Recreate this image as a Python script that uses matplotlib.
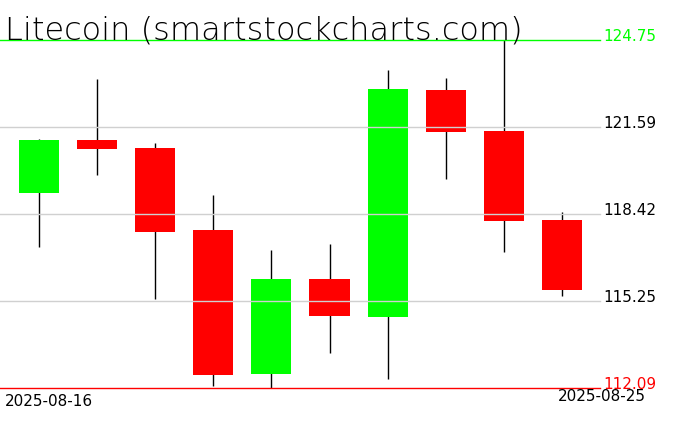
import numpy as np
import matplotlib
matplotlib.use("Agg")
import matplotlib.pyplot as plt

dates = ["2025-08-16", "2025-08-17", "2025-08-18", "2025-08-19", "2025-08-20",
         "2025-08-21", "2025-08-22", "2025-08-23", "2025-08-24", "2025-08-25"]
opens = [119.21, 121.14, 120.83, 117.85, 112.61, 116.06, 114.69, 122.95, 121.45, 118.21]
highs = [121.16, 123.35, 121.02, 119.12, 117.12, 117.34, 123.68, 123.38, 124.75, 118.50]
lows = [117.24, 119.86, 115.34, 112.18, 112.09, 113.38, 112.43, 119.72, 117.06, 115.45]
closes = [121.14, 120.81, 117.79, 112.58, 116.06, 114.73, 122.98, 121.43, 118.18, 115.67]
grid_levels = [121.59, 118.42, 115.25]
title = "Litecoin (smartstockcharts.com)"

fig = plt.figure(figsize=(6.76, 4.31), dpi=100)
ax = fig.add_axes([0, 0, 1, 1])
ax.set_axis_off()

x = np.arange(len(dates))
o = np.array(opens)
c = np.array(closes)
up = c >= o
colors = np.where(up, "#00ff00", "#ff0000")

# wicks first, bodies on top, then grid lines across the bodies
ax.vlines(x, lows, highs, color="black", linewidth=1.0, zorder=1)
ax.bar(x, np.abs(c - o), bottom=np.minimum(o, c), width=0.69,
       color=colors, linewidth=0, zorder=2)

# pixel mapping: candle 0 centre at 39 px, 58.1 px per candle
xl = -39 / 58.1
xr = (676 - 39) / 58.1
ax.set_xlim(xl, xr)
ax.set_ylim(110.56, 126.26)
line_end = 600 / 676

hi = max(highs)
lo = min(lows)
for g in grid_levels:
    ax.axhline(g, xmin=0, xmax=line_end, color="#d0d0d0", linewidth=1.0, zorder=3)
    ax.text(603 / 676, g, f"{g:.2f}", transform=ax.get_yaxis_transform(),
            fontsize=11, color="black", va="baseline", ha="left")
ax.axhline(hi, xmin=0, xmax=line_end, color="#00ff00", linewidth=1.0, zorder=3)
ax.text(603 / 676, hi, f"{hi:.2f}", transform=ax.get_yaxis_transform(),
        fontsize=11, color="#00ff00", va="baseline", ha="left")
ax.axhline(lo, xmin=0, xmax=line_end, color="#ff0000", linewidth=1.0, zorder=3)
ax.text(603 / 676, lo, f"{lo:.2f}", transform=ax.get_yaxis_transform(),
        fontsize=11, color="#ff0000", va="baseline", ha="left")

ax.text(5 / 676, 1 - 39 / 431, title, transform=ax.transAxes,
        fontsize=23, fontweight="light", color="black", va="baseline", ha="left")

ax.text(5 / 676, 1 - 406 / 431, dates[0], transform=ax.transAxes,
        fontsize=11, color="black", va="baseline", ha="left")
ax.text(646 / 676, 1 - 401 / 431, dates[-1], transform=ax.transAxes,
        fontsize=11, color="black", va="baseline", ha="right")

fig.savefig("out.png", dpi=100, facecolor="white")
